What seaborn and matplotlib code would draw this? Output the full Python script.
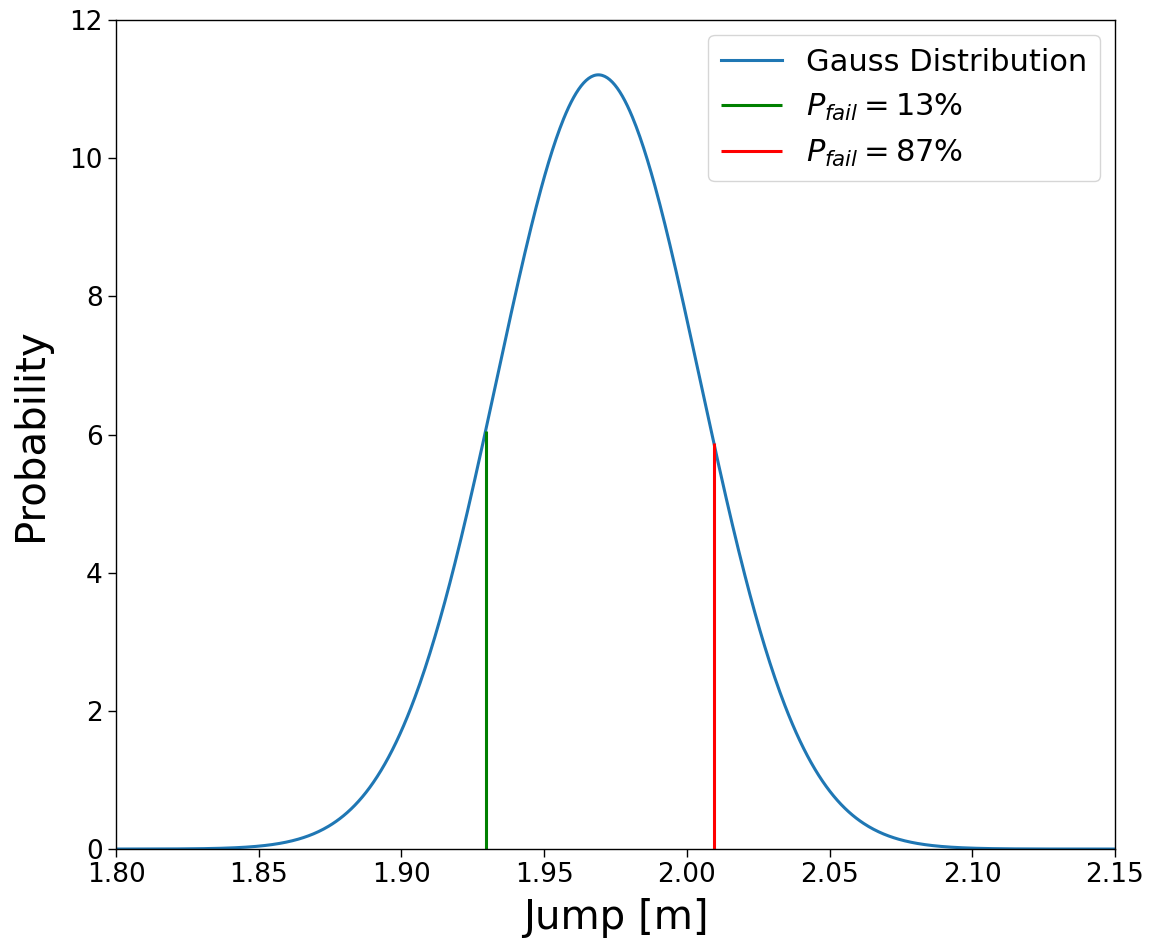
import numpy as np
import pandas as pd
import matplotlib
matplotlib.use("Agg")
import matplotlib.pyplot as plt
import seaborn as sns

# Gaussian parameters
mu = 1.969
sigma = 0.0356
x_range = [1.80, 2.15]

# Vertical markers
fail_x = [1.9295, 2.0094]
fail_h = [6.05, 5.88]
fail_labels = [r"$P_{fail} = 13\%$", r"$P_{fail} = 87\%$"]
fail_colors = ["green", "red"]

xs = np.linspace(x_range[0], x_range[1], 800)
pdf = np.exp(-0.5 * ((xs - mu) / sigma) ** 2) / (sigma * np.sqrt(2 * np.pi))
df = pd.DataFrame({"Jump": xs, "Probability": pdf})

fig = plt.figure(figsize=(11.59, 9.39), dpi=100)
ax = fig.add_axes([0.1001, 0.0958, 0.8619, 0.8829])

sns.lineplot(data=df, x="Jump", y="Probability", ax=ax, color="#1f77b4",
             linewidth=2.2, label="Gauss Distribution")
for xv, hv, lab, c in zip(fail_x, fail_h, fail_labels, fail_colors):
    ax.vlines(xv, 0, hv, colors=c, linewidth=2.2, label=lab)

ax.set_xlim(*x_range)
ax.set_ylim(0, 12)
ax.set_xticks([1.80, 1.85, 1.90, 1.95, 2.00, 2.05, 2.10, 2.15])
ax.set_xticklabels(["1.80", "1.85", "1.90", "1.95", "2.00", "2.05", "2.10", "2.15"])
ax.set_yticks([0, 2, 4, 6, 8, 10, 12])
ax.tick_params(labelsize=19, length=6, width=1.0)
ax.set_xlabel("Jump [m]", fontsize=29, labelpad=7)
ax.set_ylabel("Probability", fontsize=29, labelpad=13)
for s in ax.spines.values():
    s.set_linewidth(1.0)
ax.legend(loc="upper right", fontsize=22)

fig.savefig("out.png", dpi=100)
